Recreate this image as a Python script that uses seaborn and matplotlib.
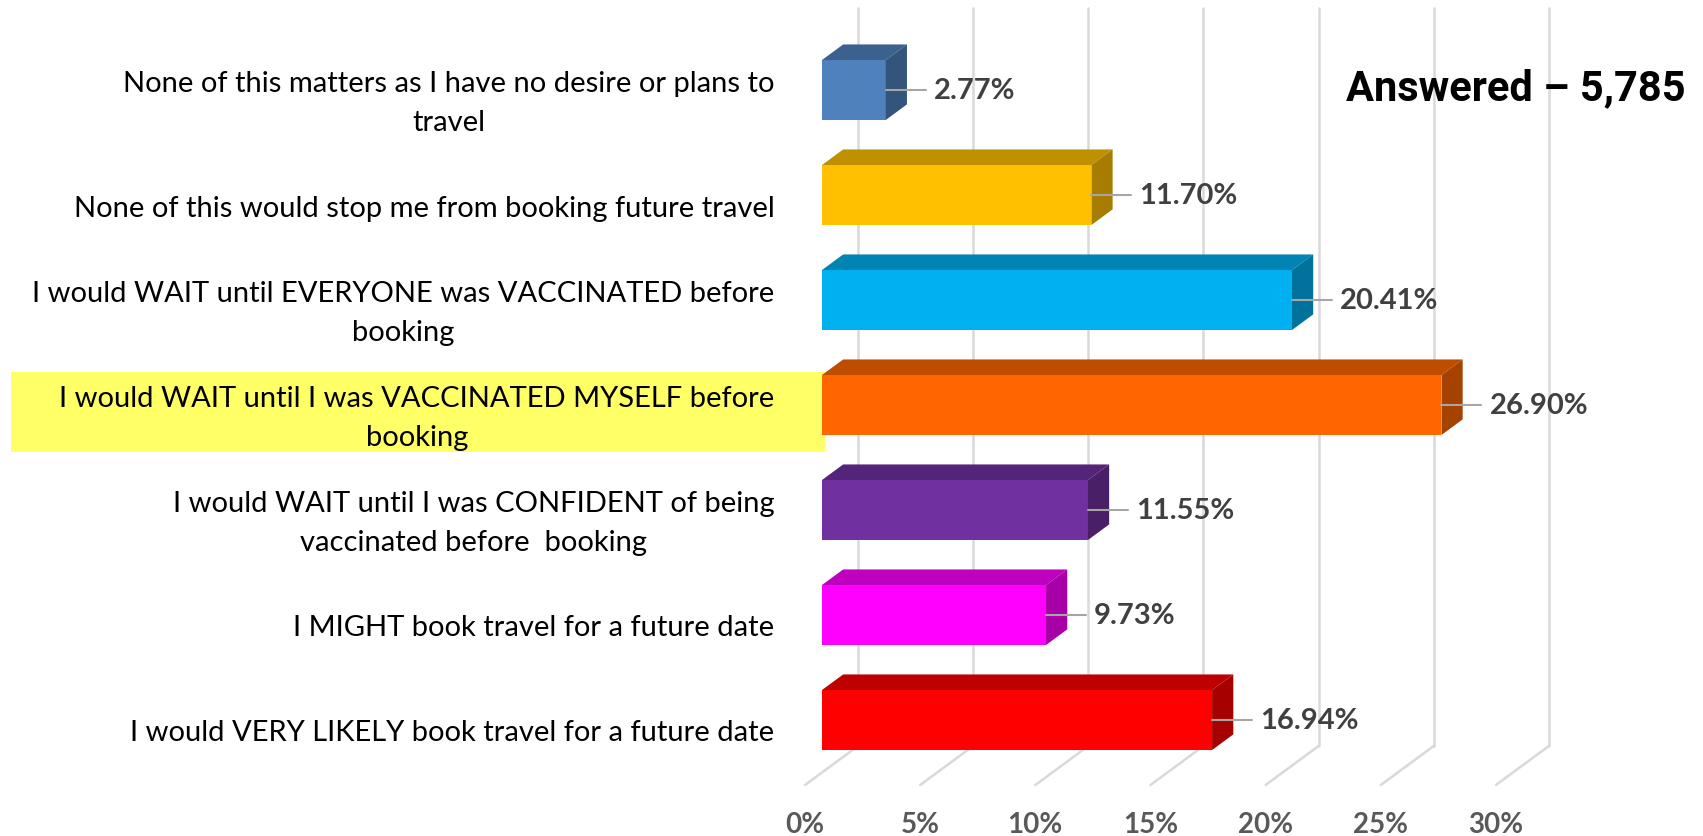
import matplotlib
matplotlib.use("Agg")
import matplotlib.pyplot as plt
import matplotlib.transforms as mtransforms
from matplotlib.patches import Polygon, Rectangle
from matplotlib.colors import to_rgb
import seaborn as sns
import pandas as pd

categories = [
    "None of this matters as I have no desire or plans to\ntravel",
    "None of this would stop me from booking future travel",
    "I would WAIT until EVERYONE was VACCINATED before\nbooking",
    "I would WAIT until I was VACCINATED MYSELF before\nbooking",
    "I would WAIT until I was CONFIDENT of being\nvaccinated before  booking",
    "I MIGHT book travel for a future date",
    "I would VERY LIKELY book travel for a future date",
]
percent = [2.77, 11.70, 20.41, 26.90, 11.55, 9.73, 16.94]
tick_values = [0, 5, 10, 15, 20, 25, 30]
tick_labels = [f"{t}%" for t in tick_values]
highlight = 3  # row with the yellow marker
answered = "Answered \u2013 5,785"

front_colors = ["#4F81BD", "#FFC000", "#00B0F0", "#FF6600", "#7030A0", "#FF00FF", "#FF0000"]

df = pd.DataFrame({"answer": categories, "percent": percent})

sns.set_style("white")
plt.rcParams["font.family"] = ["Lato", "DejaVu Sans"]

W, H, DPI = 1703, 837, 100
fig = plt.figure(figsize=(W / DPI, H / DPI), dpi=DPI)

# pixel geometry of the fake 3D box (front edge of the floor)
px_pct, px_cat = 23.03, 105.0
x0_px, floor_px, top_px = 805, 786, 9
ax = fig.add_axes([x0_px / W, 1 - floor_px / H, 30 * px_pct / W, (floor_px - top_px) / H])

sns.barplot(data=df, x="percent", y="answer", hue="answer", palette=front_colors,
            legend=False, width=0.571, orient="h", saturation=1, ax=ax, zorder=3)

ax.set_xlim(0, 30)
ytop = 6.5 - (floor_px - top_px) / px_cat
ax.set_ylim(6.5, ytop)
for s in ax.spines.values():
    s.set_visible(False)
ax.grid(False)

# depth of the box: back wall offset in data units
DX = 53 / px_pct
DY = 39 / px_cat
f_d, b_d = 0.32, 0.72  # bar front / back depth


def shift(d):
    return mtransforms.Affine2D().translate(d * DX, -d * DY) + ax.transData


grid_c = "#D9D9D9"
for t in tick_values:
    ax.plot([t, t + DX], [6.5, 6.5 - DY], color=grid_c, lw=1.8, clip_on=False, zorder=1)
    ax.plot([t + DX, t + DX], [6.5 - DY, ytop], color=grid_c, lw=1.8, clip_on=False, zorder=1)

for bar in list(ax.patches):
    x, y, w, h = bar.get_x(), bar.get_y(), bar.get_width(), bar.get_height()
    rgb = to_rgb(bar.get_facecolor())
    top_c = tuple(c * 0.75 for c in rgb)
    side_c = tuple(c * 0.65 for c in rgb)
    bar.set_transform(shift(f_d))
    bar.set_edgecolor("none")
    top = Polygon([(x + f_d * DX, y - f_d * DY), (x + w + f_d * DX, y - f_d * DY),
                   (x + w + b_d * DX, y - b_d * DY), (x + b_d * DX, y - b_d * DY)],
                  closed=True, facecolor=top_c, edgecolor="none", zorder=3, clip_on=False)
    side = Polygon([(x + w + f_d * DX, y - f_d * DY), (x + w + b_d * DX, y - b_d * DY),
                    (x + w + b_d * DX, y + h - b_d * DY), (x + w + f_d * DX, y + h - f_d * DY)],
                   closed=True, facecolor=side_c, edgecolor="none", zorder=3, clip_on=False)
    ax.add_patch(top)
    ax.add_patch(side)
    bar.set_clip_on(False)

# value labels with leader lines
for i, v in enumerate(percent):
    xs = v + f_d * DX
    yc = i - f_d * DY
    ax.plot([xs, xs + 40 / px_pct], [yc, yc], color="#A6A6A6", lw=1.5, zorder=4, clip_on=False)
    ax.text(xs + 48 / px_pct, yc, f"{v:.2f}%", ha="left", va="center", fontsize=21,
            fontweight="bold", color="#404040", zorder=5, clip_on=False)

# yellow marker behind one label
hl = Rectangle((11 / W, highlight - 0.433), (825 - 11) / W, 0.762,
               transform=mtransforms.blended_transform_factory(fig.transFigure, ax.transData),
               facecolor="#FFFF66", edgecolor="none", zorder=0.5, clip_on=False)
ax.add_patch(hl)

ax.set_yticks(range(len(categories)))
ax.set_yticklabels(categories, ha="right", va="center", multialignment="center",
                   fontsize=21, color="black", linespacing=1.6)
ax.set_xticks(tick_values)
ax.set_xticklabels(tick_labels, fontsize=20, fontweight="bold", color="#595959")
ax.tick_params(axis="y", length=0, pad=22)
ax.tick_params(axis="x", length=0, pad=18.5)
ax.set_xlabel("")
ax.set_ylabel("")

fig.text(1686 / W, 1 - 100 / H, answered, fontsize=30, fontweight="bold", color="black",
         family=["Roboto", "Liberation Sans"], ha="right", va="baseline")

fig.savefig("out.png", dpi=DPI)
